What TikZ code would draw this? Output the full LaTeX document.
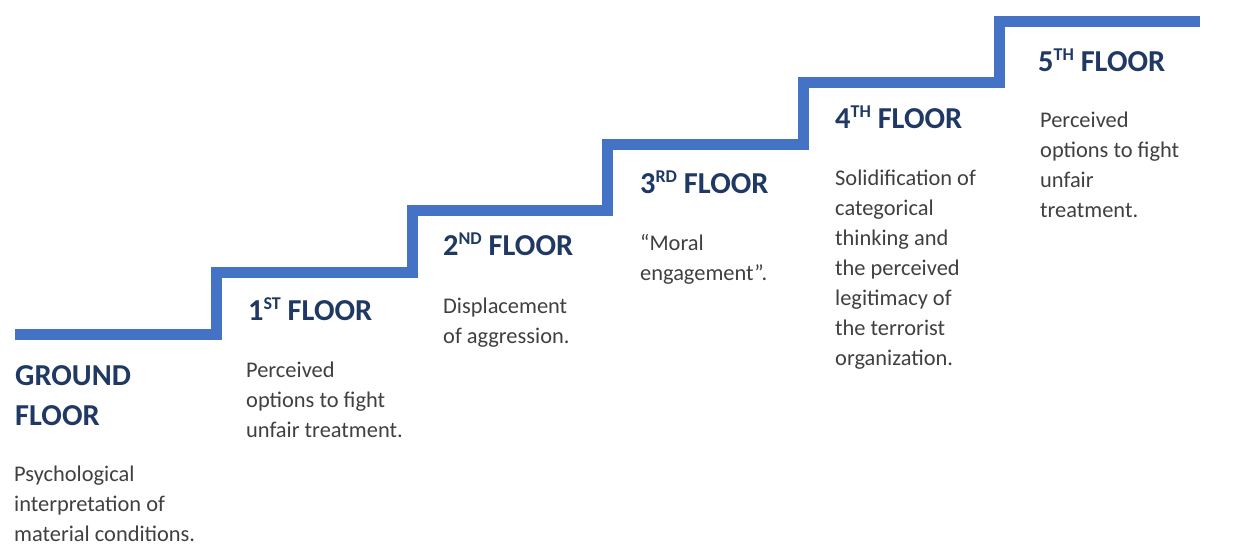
\documentclass[tikz,border=0pt]{standalone}
\usepackage{fontspec}
\setmainfont{Carlito}
\definecolor{stairblue}{HTML}{4472C4}
\definecolor{titlenavy}{HTML}{1F3864}
\definecolor{bodygray}{HTML}{404040}
\newcommand{\supx}[1]{\raisebox{0.36em}{\fontsize{18}{18}\selectfont #1}}
\tikzset{
  stair/.style={draw=stairblue, line width=11pt, line join=miter},
  floortitle/.style={anchor=base west, inner sep=0pt, align=left, text=titlenavy,
    font=\fontsize{30.4}{40}\selectfont\bfseries},
  floortext/.style={anchor=base west, inner sep=0pt, align=left, text=bodygray,
    font=\fontsize{22.4}{30}\selectfont}
}
\begin{document}
\begin{tikzpicture}[x=1pt,y=-1pt]
\useasboundingbox[fill=white] (0,0) rectangle (1237,554);
\coordinate (s0) at (15,334);
\coordinate (s1) at (216,334);
\coordinate (s2) at (216,272);
\coordinate (s3) at (412,272);
\coordinate (s4) at (412,210);
\coordinate (s5) at (607,210);
\coordinate (s6) at (607,144);
\coordinate (s7) at (803,144);
\coordinate (s8) at (803,82);
\coordinate (s9) at (999,82);
\coordinate (s10) at (999,21);
\coordinate (s11) at (1200,21);
\draw[stair] (s0) -- (s1) -- (s2) -- (s3) -- (s4) -- (s5) -- (s6) -- (s7) -- (s8) -- (s9) -- (s10) -- (s11);

% base anchor = baseline of the last line
\node[floortitle] (t0) at (15,425) {GROUND\\FLOOR};
\node[floortext] (d0) at (14,541) {Psychological\\interpretation of\\material conditions.};

\node[floortitle] (t1) at (248,320) {1\supx{ST} FLOOR};
\node[floortext] (d1) at (246,437) {Perceived\\options to fight\\unfair treatment.};

\node[floortitle] (t2) at (443,255) {2\supx{ND} FLOOR};
\node[floortext] (d2) at (443,343) {Displacement\\of aggression.};

\node[floortitle] (t3) at (640,193) {3\supx{RD} FLOOR};
\node[floortext] (d3) at (640,280) {“Moral\\engagement”.};

\node[floortitle] (t4) at (835,128) {4\supx{TH} FLOOR};
\node[floortext] (d4) at (835,365) {Solidification of\\categorical\\thinking and\\the perceived\\legitimacy of\\the terrorist\\organization.};

\node[floortitle] (t5) at (1038,71) {5\supx{TH} FLOOR};
\node[floortext] (d5) at (1040,217) {Perceived\\options to fight\\unfair\\treatment.};
\end{tikzpicture}
\end{document}
